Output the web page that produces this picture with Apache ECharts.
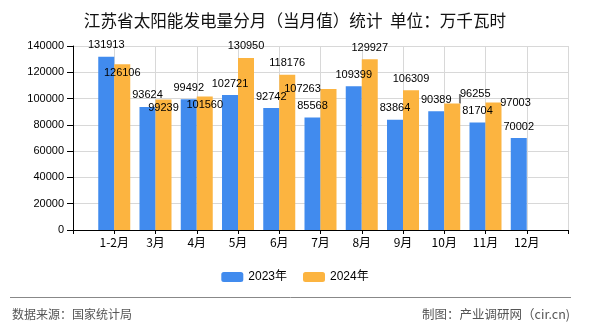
<!DOCTYPE html>
<html>
<head>
<meta charset="utf-8">
<script src="https://cdn.jsdelivr.net/npm/echarts@6/dist/echarts.min.js"></script>
<style>
html,body{margin:0;padding:0;background:#fff;}
#c{width:590px;height:330px;}
</style>
</head>
<body>
<div id="c"></div>
<script>
const title = '江苏省太阳能发电量分月（当月值）统计  单位：万千瓦时';
const categories = ['1-2月','3月','4月','5月','6月','7月','8月','9月','10月','11月','12月'];
const seriesNames = ['2023年','2024年'];
const values2023 = [131913, 93624, 99492, 102721, 92742, 85568, 109399, 83864, 90389, 81704, 70002];
const values2024 = [126106, 99239, 101560, 130950, 118176, 107263, 129927, 106309, 96255, 97003, null];
const yTicks = [0, 20000, 40000, 60000, 80000, 100000, 120000, 140000];
const sourceText = '数据来源：国家统计局';
const makerText = '制图：产业调研网（cir.cn)';

// label placement tweaks (layout only, in pixels) for crowded 2024 labels
const labelNudge2024 = {'1-2月': [0, 20], '3月': [0, 20], '4月': [0, 20], '7月': [-26, 11], '10月': [23, 2], '11月': [22, 12]};
const guideLineCats = ['10月'];

const numFont = 'SimSun, "Liberation Sans", "Noto Sans CJK SC", sans-serif';
const cjkFont = '"Noto Sans CJK SC", sans-serif';
const axisCats = [''].concat(categories, ['']);
const pad = arr => [null].concat(arr, [null]);

const data2024 = pad(values2024).map((v, i) => {
  const cat = axisCats[i];
  if (v != null && guideLineCats.indexOf(cat) >= 0) {
    return {value: v, labelLine: {show: true, lineStyle: {color: '#777', width: 2}}};
  }
  return v;
});

const chart = echarts.init(document.getElementById('c'), null, {renderer: 'canvas'});
const labelCfg = {
  show: true, position: 'top', distance: 6,
  color: '#000', fontSize: 11, fontFamily: numFont
};
chart.setOption({
  animation: false,
  backgroundColor: '#fff',
  title: {
    text: title, left: 'center', top: 7,
    textStyle: {fontSize: 16.6, fontWeight: 'normal', color: '#111', fontFamily: cjkFont}
  },
  legend: {
    data: seriesNames, bottom: 42, left: 'center',
    itemWidth: 22, itemHeight: 10, itemGap: 16,
    textStyle: {fontSize: 12, color: '#000', fontFamily: numFont}
  },
  grid: {left: 73, right: 22, top: 46, bottom: 100, containLabel: false},
  xAxis: {
    type: 'category', data: axisCats, boundaryGap: false,
    axisLine: {lineStyle: {color: '#000', width: 1}},
    axisTick: {show: true, length: 4, lineStyle: {color: '#000'}},
    axisLabel: {color: '#000', fontSize: 12, fontFamily: cjkFont, margin: 6, interval: 0},
    splitLine: {show: true, lineStyle: {color: '#d8d8d8'}}
  },
  yAxis: {
    type: 'value', min: yTicks[0], max: yTicks[yTicks.length - 1], interval: 20000,
    axisLine: {show: true, lineStyle: {color: '#000'}},
    axisTick: {show: true, length: 6, lineStyle: {color: '#000'}},
    axisLabel: {color: '#000', fontSize: 11, fontFamily: numFont, margin: 9, formatter: v => String(v)},
    splitLine: {show: true, lineStyle: {color: '#d8d8d8'}}
  },
  series: [
    {name: seriesNames[0], type: 'bar', data: pad(values2023), barWidth: 16, barGap: '0%',
     itemStyle: {color: '#418BEE'}, label: labelCfg},
    {name: seriesNames[1], type: 'bar', data: data2024, barWidth: 16, barGap: '0%',
     itemStyle: {color: '#FCB440'}, label: labelCfg,
     labelLayout: function (p) {
       const n = labelNudge2024[axisCats[p.dataIndex]];
       return n ? {dx: n[0], dy: n[1]} : {};
     }}
  ],
  graphic: [
    {type: 'line', shape: {x1: 10, y1: 297.5, x2: 571, y2: 297.5}, style: {stroke: '#888', lineWidth: 1}},
    {type: 'text', left: 12, top: 308, style: {text: sourceText, fill: '#555', fontSize: 12, fontFamily: cjkFont}},
    {type: 'text', right: 20, top: 308, style: {text: makerText, fill: '#555', fontSize: 12.5, fontFamily: cjkFont}}
  ]
});
</script>
</body>
</html>
